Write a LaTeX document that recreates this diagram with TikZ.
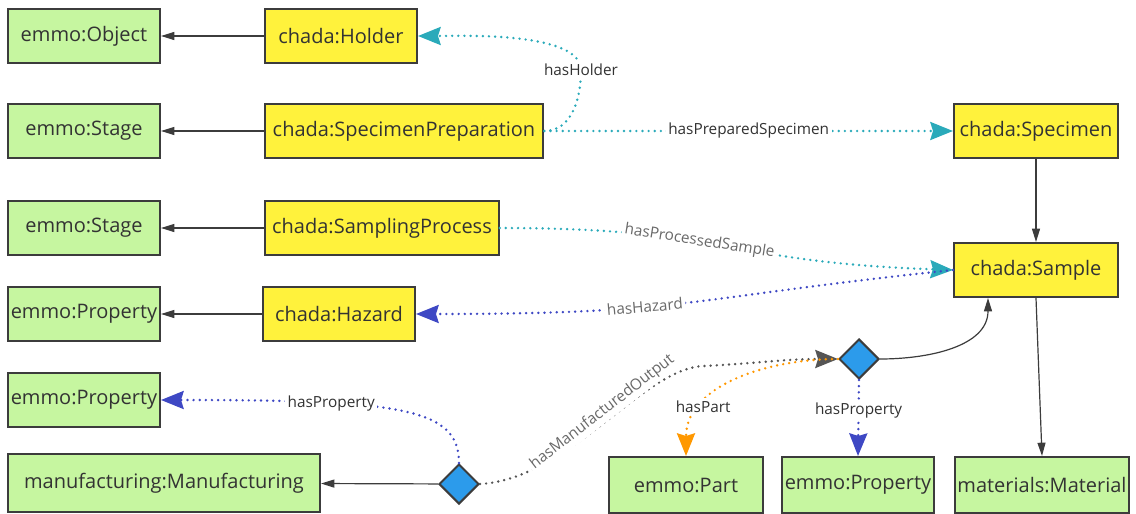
\documentclass[tikz,border=0pt]{standalone}
\usepackage{fontspec}
\setmainfont{Open Sans}
\usetikzlibrary{arrows.meta,shapes.geometric}
\definecolor{classgreen}{RGB}{198,246,160}
\definecolor{chadayellow}{RGB}{255,242,60}
\definecolor{boxline}{RGB}{60,60,60}
\definecolor{boxtext}{RGB}{51,51,51}
\definecolor{knotblue}{RGB}{44,155,235}
\definecolor{linkteal}{RGB}{42,170,186}
\definecolor{linkblue}{RGB}{62,72,196}
\definecolor{linkorange}{RGB}{255,152,0}
\definecolor{linkgray}{RGB}{85,85,85}
\definecolor{lbldark}{RGB}{50,50,50}
\definecolor{lbllight}{RGB}{105,105,105}
\newcommand{\drawisa}{\draw[isa]}
\newcommand{\drawlink}[1]{\draw[link,#1]}
\tikzset{
  classbox/.style={draw=boxline, line width=1.5pt, fill=classgreen, text=boxtext,
    minimum width=114pt, minimum height=40.5pt, inner sep=0pt, font=\fontsize{15}{18}\selectfont},
  chadabox/.style={classbox, fill=chadayellow},
  knotbox/.style={diamond, aspect=1, draw=boxline, line width=1.5pt, fill=knotblue,
    minimum size=30pt, inner sep=0pt},
  isa/.style={draw=boxline, line width=0.9pt, -{Triangle[length=10pt,width=6pt]}},
  link/.style={line width=2pt, dash pattern=on 0pt off 4.6pt, line cap=round,
    -{Stealth[length=17pt,width=13.5pt,inset=2pt]}},
  lbl/.style={fill=white, inner sep=2pt, text=lbldark, font=\fontsize{11.5}{13}\selectfont},
  slantlbl/.style={lbl, sloped, text=lbllight}
}
\begin{document}
\begin{tikzpicture}[x=0.75pt,y=-0.75pt]
\useasboundingbox[fill=white] (0,0) rectangle (1136,514);
\node[classbox] (object) at (84,36) {emmo:Object};
\node[chadabox] (holder) at (341,36) {chada:Holder};
\node[classbox] (stageA) at (84,131) {emmo:Stage};
\node[chadabox, minimum width=209pt] (prep) at (404,131) {chada:SpecimenPreparation};
\node[chadabox, minimum width=123pt] (specimen) at (1036,131) {chada:Specimen};
\node[classbox] (stageB) at (84,228) {emmo:Stage};
\node[chadabox, minimum width=175pt] (sampling) at (382,228) {chada:SamplingProcess};
\node[chadabox, minimum width=123pt] (sample) at (1036,270) {chada:Sample};
\node[classbox] (propA) at (84,314) {emmo:Property};
\node[chadabox] (hazard) at (339,314) {chada:Hazard};
\node[classbox] (propB) at (84,400) {emmo:Property};
\node[classbox, minimum width=234pt, minimum height=43pt] (manuf) at (164,483) {manufacturing:Manufacturing};
\node[knotbox] (knotA) at (459,484) {};
\node[knotbox] (knotB) at (859,359) {};
\node[classbox, minimum width=115pt, minimum height=42pt] (part) at (686,485) {emmo:Part};
\node[classbox, minimum height=42pt] (propC) at (858,485) {emmo:Property};
\node[classbox, minimum width=131pt, minimum height=42pt] (material) at (1042,485) {materials:Material};
\coordinate (holdbend) at (581,70);
\coordinate (outputbend) at (705,366);
\drawisa (holder) -- (object);
\drawisa (prep) -- (stageA);
\drawisa (sampling) -- (stageB);
\drawisa (hazard) -- (propA);
\drawisa (knotA) -- (manuf);
\drawisa (specimen) -- (sample);
\drawisa (sample.south) -- (material.north);
\drawisa (knotB.east) to[out=0,in=-90] ([xshift=-36pt]sample.south);
\drawlink{linkteal} (prep.east) to[out=0,in=-90] (holdbend) node[lbl]{hasHolder} to[out=90,in=0,looseness=0.6] (holder.east);
\drawlink{linkteal} (prep.east) -- node[lbl]{hasPreparedSpecimen} (specimen.west);
\drawlink{linkteal} (sampling.east) to[out=0,in=178,looseness=1.3] node[slantlbl,pos=0.42]{hasProcessedSample} (sample.west);
\drawlink{linkblue} (sample.west) to[out=186,in=0,looseness=1.3] node[slantlbl,pos=0.6]{hasHazard} (hazard.east);
\drawlink{linkblue} (knotA.north) .. controls +(0,-55) and +(240,0) .. node[lbl,pos=0.7]{hasProperty} (propB.east);
\drawlink{linkgray} (knotA.east) .. controls +(90,-5) and +(-60,0) .. node[slantlbl,pos=0.52,above=-1.5pt]{hasManufacturedOutput} (outputbend) to[out=3,in=180] (knotB.west);
\drawlink{linkorange} (knotB.west) to[out=180,in=90] node[lbl,pos=0.72]{hasPart} (part.north);
\drawlink{linkblue} (knotB.south) -- node[lbl,pos=0.4]{hasProperty} (propC.north);
\end{tikzpicture}
\end{document}
